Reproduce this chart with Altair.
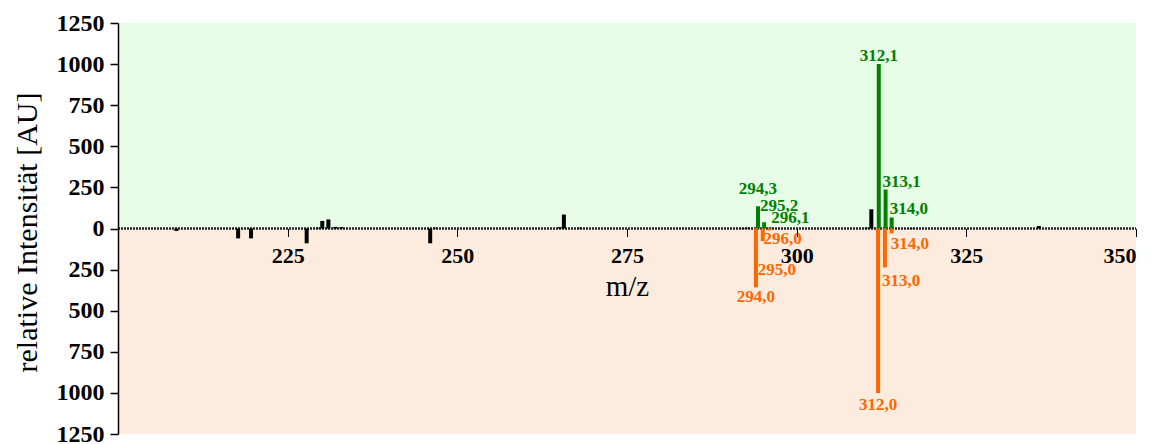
import altair as alt
import pandas as pd

# ---- data ----
black_mz = [208.6, 217.7, 219.6, 227.8, 229.5, 230.1, 231.0, 232.0, 232.9, 246.0,
            246.7, 265.1, 265.7, 268.1, 292.1, 292.8, 310.3, 311.0, 316.9, 335.7]
black_int = [-15, -60, -60, -90, 5, 46, 55, 10, 8, -90,
             5, 8, 85, 5, 3, 5, 5, 117, 3, 15]

green_mz = [294.3, 295.2, 296.1, 312.1, 313.1, 314.0]
green_int = [135, 38, 6, 1000, 237, 67]
green_lbl = ["294,3", "295,2", "296,1", "312,1", "313,1", "314,0"]

orange_mz = [294.0, 295.0, 296.0, 312.0, 313.0, 314.0]
orange_int = [-358, -77, -12, -1000, -237, -30]
orange_lbl = ["294,0", "295,0", "296,0", "312,0", "313,0", "314,0"]

x_ticks = [225, 250, 275, 300, 325, 350]
y_ticks = [-1250, -1000, -750, -500, -250, 0, 250, 500, 750, 1000, 1250]

# label styling (align, dx, dy) per label
green_style = [("center", 0, -12), ("left", -4, -11), ("left", 1, -5),
               ("center", 0, -3), ("left", -3, -3), ("left", -2, -3)]
orange_style = [("center", 0, 2), ("left", -5, 21), ("left", -6, 1),
                ("center", 0, 4), ("left", -3, 6), ("left", -1, 3)]

GREEN = "#008000"
ORANGE = "#ff6600"
FONT = "Liberation Serif"

black_df = pd.DataFrame({"mz": black_mz, "i": black_int})
green_df = pd.DataFrame({"mz": green_mz, "i": green_int, "lbl": green_lbl})
orange_df = pd.DataFrame({"mz": orange_mz, "i": orange_int, "lbl": orange_lbl})
bg_df = pd.DataFrame({"x0": [200, 200], "x1": [350, 350], "y0": [0, -1250],
                      "y1": [1250, 0], "part": ["pos", "neg"]})

xscale = alt.Scale(domain=[200, 350], nice=False, zero=False)
yscale = alt.Scale(domain=[-1250, 1250], nice=False)

bg = alt.Chart(bg_df).mark_rect().encode(
    x=alt.X("x0:Q", scale=xscale,
            axis=alt.Axis(title="m/z", values=x_ticks, offset=-205.5,
                          zindex=1, grid=False, domain=False,
                          tickColor="black", tickSize=8, tickWidth=1,
                          labelFont=FONT, labelFontWeight="bold",
                          labelFontSize=22, labelColor="black",
                          labelPadding=9, titleFont=FONT,
                          titleFontWeight="normal", titleFontSize=29,
                          titleColor="black", titlePadding=6)),
    x2="x1:Q",
    y=alt.Y("y0:Q", scale=yscale,
            axis=alt.Axis(title="relative Intensität [AU]", values=y_ticks,
                          labelExpr="format(abs(datum.value), 'd')",
                          zindex=1, grid=False, domainColor="black",
                          domainWidth=1.5, tickColor="black", tickSize=8,
                          tickWidth=1.5, labelFont=FONT,
                          labelFontWeight="bold", labelFontSize=24,
                          labelColor="black", labelPadding=6,
                          titleFont=FONT, titleFontWeight="normal",
                          titleFontSize=30, titleColor="black",
                          titleX=-91, titleY=209, titleBaseline="middle")),
    y2="y1:Q",
    color=alt.Color("part:N", scale=alt.Scale(domain=["pos", "neg"],
                                              range=["#e6fce6", "#fdecdd"]),
                    legend=None),
)

zero = alt.Chart(bg_df).mark_rule(color="#222222", strokeWidth=2,
                                  strokeDash=[2, 1]).encode(
    x=alt.X("x0:Q", scale=xscale), x2="x1:Q", y=alt.datum(0))

black = alt.Chart(black_df).mark_rule(color="black", strokeWidth=4).encode(
    x=alt.X("mz:Q", scale=xscale), y=alt.Y("i:Q", scale=yscale), y2=alt.datum(0))
green = alt.Chart(green_df).mark_rule(color=GREEN, strokeWidth=4).encode(
    x=alt.X("mz:Q", scale=xscale), y=alt.Y("i:Q", scale=yscale), y2=alt.datum(0))
orange = alt.Chart(orange_df).mark_rule(color=ORANGE, strokeWidth=4).encode(
    x=alt.X("mz:Q", scale=xscale), y=alt.Y("i:Q", scale=yscale), y2=alt.datum(0))

layers = [bg, zero, black, green, orange]

for lbl, (al, dx, dy) in zip(green_lbl, green_style):
    layers.append(
        alt.Chart(green_df).transform_filter(alt.datum.lbl == lbl).mark_text(
            font=FONT, fontWeight="bold", fontSize=17, color=GREEN,
            align=al, baseline="alphabetic", dx=dx, dy=dy).encode(
            x=alt.X("mz:Q", scale=xscale), y=alt.Y("i:Q", scale=yscale),
            text="lbl:N"))
for lbl, (al, dx, dy) in zip(orange_lbl, orange_style):
    layers.append(
        alt.Chart(orange_df).transform_filter(alt.datum.lbl == lbl).mark_text(
            font=FONT, fontWeight="bold", fontSize=17, color=ORANGE,
            align=al, baseline="top", dx=dx, dy=dy).encode(
            x=alt.X("mz:Q", scale=xscale), y=alt.Y("i:Q", scale=yscale),
            text="lbl:N"))

chart = alt.layer(*layers).properties(
    width=1018, height=411,
    autosize=alt.AutoSizeParams(type="none"),
    padding={"left": 110, "top": 15, "right": 12, "bottom": 10},
    background="white",
).configure_view(stroke=None)

chart.save("out.html", embed_options={"renderer": "svg", "actions": False})
